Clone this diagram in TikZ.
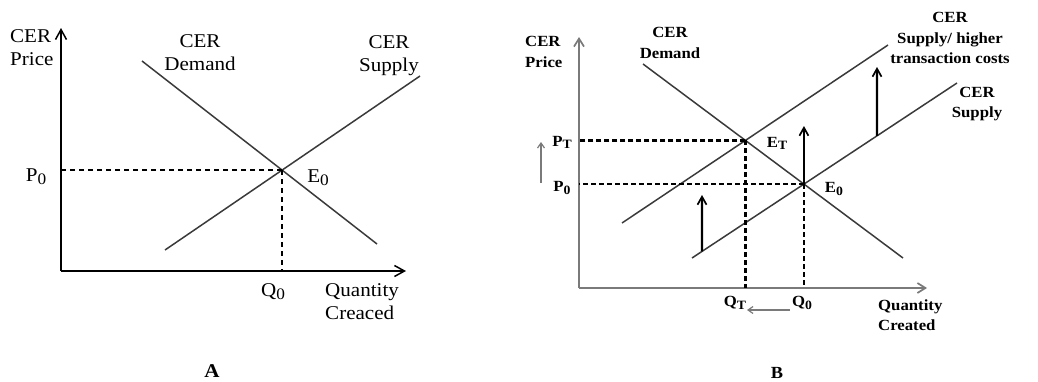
\documentclass[tikz,border=0pt]{standalone}
\usepackage{fontspec}
\setmainfont{Liberation Serif}[FakeStretch=1.08]
\usetikzlibrary{arrows.meta}
\definecolor{curve}{HTML}{3A3A3A}
\definecolor{axisgray}{HTML}{7A7A7A}
\tikzset{
  axisA/.style={line width=2pt, black, -{Straight Barb[length=10pt,width=11pt,line width=1.5pt]}},
  axisB/.style={line width=2.4pt, axisgray, -{Straight Barb[length=8pt,width=10pt,line width=1.7pt]}},
  curveline/.style={line width=1.5pt, curve},
  dashA/.style={line width=1.5pt, black, dash pattern=on 5pt off 4pt},
  dashB/.style={line width=2.3pt, black, dash pattern=on 5pt off 3pt},
  shiftarrow/.style={line width=2.2pt, black, -{Straight Barb[length=8pt,width=9pt,line width=1.7pt]}},
  smallarrow/.style={line width=1.5pt, axisgray, -{Straight Barb[length=5pt,width=7pt,line width=1.2pt]}},
  labA/.style={font=\fontsize{19.5}{23}\selectfont, inner sep=0pt, align=center},
  labB/.style={font=\fontsize{15.5}{20.5}\selectfont\bfseries, inner sep=0pt, align=center},
}
\newcommand{\sbs}[1]{\raisebox{-0.3ex}{\scalebox{0.82}{#1}}}
\begin{document}
\begin{tikzpicture}[x=1pt,y=-1pt]
\useasboundingbox (0,0) rectangle (1038,381);
% ---------------- Panel A ----------------
\coordinate (Ao) at (61,271);
\coordinate (Ay) at (61,28);
\coordinate (Ax) at (406,271);
\draw[axisA] (Ao) -- (Ay);
\draw[axisA] (Ao) -- (Ax);
\coordinate (dA1) at (142,61);
\coordinate (dA2) at (377,244);
\coordinate (sA1) at (165,250);
\coordinate (sA2) at (420,76);
\draw[curveline] (dA1) -- (dA2);
\draw[curveline] (sA1) -- (sA2);
\coordinate (EA) at (intersection of dA1--dA2 and sA1--sA2);
\draw[dashA] (EA) -- (Ao |- EA);
\draw[dashA] (EA) -- (EA |- Ao);
\node[labA, align=left, anchor=west] (priceA) at (10,48) {CER\\Price};
\node[labA] (demA) at (200,53) {CER\\Demand};
\node[labA] (supA) at (389,56) {CER\\Supply};
\node[labA] (P0A) at (36,177) {P\sbs{0}};
\node[labA] (E0A) at (318,178) {E\sbs{0}};
\node[labA] (Q0A) at (273,292) {Q\sbs{0}};
\node[labA, align=left, anchor=west] (qtyA) at (325,302) {Quantity\\Creaced};
\node[labA] (capA) at (212,371) {\textbf{A}};
% ---------------- Panel B ----------------
\coordinate (Bo) at (579,288);
\coordinate (By) at (579,37);
\coordinate (Bx) at (927,288);
\draw[axisB] (Bo) -- (By);
\draw[axisB] (Bo) -- (Bx);
\coordinate (dB1) at (643,64);
\coordinate (dB2) at (903,258);
\coordinate (sB1) at (692,258);
\coordinate (sB2) at (957,83);
\coordinate (hB1) at (622,223);
\coordinate (hB2) at (888,45);
\draw[curveline] (dB1) -- (dB2);
\draw[curveline] (sB1) -- (sB2);
\draw[curveline] (hB1) -- (hB2);
\coordinate (ET) at (intersection of dB1--dB2 and hB1--hB2);
\coordinate (E0) at (intersection of dB1--dB2 and sB1--sB2);
\draw[dashB] (ET) -- (Bo |- ET);
\draw[dashB] (E0) -- (Bo |- E0);
\draw[dashB] (ET) -- (ET |- Bo);
\draw[dashB] (E0) -- (E0 |- Bo);
% upward shift arrows
\coordinate (a1s) at (intersection of sB1--sB2 and 702,0--702,400);
\coordinate (a1e) at (702,195);
\coordinate (a2e) at (E0 |- 0,126);
\coordinate (a3s) at (intersection of sB1--sB2 and 877,0--877,400);
\coordinate (a3e) at (877,67);
\draw[shiftarrow] (a1s) -- (a1e);
\draw[shiftarrow] (E0) -- (a2e);
\draw[shiftarrow] (a3s) -- (a3e);
% labels
\node[labB, align=left, anchor=west] (priceB) at (525,52) {CER\\Price};
\node[labB] (demB) at (670,43) {CER\\Demand};
\node[labB] (supH) at (950,38) {CER\\Supply/ higher\\transaction costs};
\node[labB] (supB) at (977,104) {CER\\Supply};
\node[labB] (PT) at (562,142) {P\sbs{T}};
\node[labB] (P0B) at (562,188) {P\sbs{0}};
\node[labB] (ETl) at (777,143) {E\sbs{T}};
\node[labB] (E0l) at (834,189) {E\sbs{0}};
\node[labB] (QT) at (735,303) {Q\sbs{T}};
\node[labB] (Q0B) at (802,303) {Q\sbs{0}};
\node[labB, align=left, anchor=west] (qtyB) at (878,315) {Quantity\\Created};
\node[labB, font=\fontsize{17}{20}\selectfont\bfseries] (capB) at (777,373) {B};
% small gray arrows
\coordinate (pu1) at (541,183);
\coordinate (pu2) at (541,142);
\draw[smallarrow] (pu1) -- (pu2);
\coordinate (ql1) at (790,310);
\coordinate (ql2) at (747,310);
\draw[smallarrow] (ql1) -- (ql2);
\end{tikzpicture}
\end{document}
